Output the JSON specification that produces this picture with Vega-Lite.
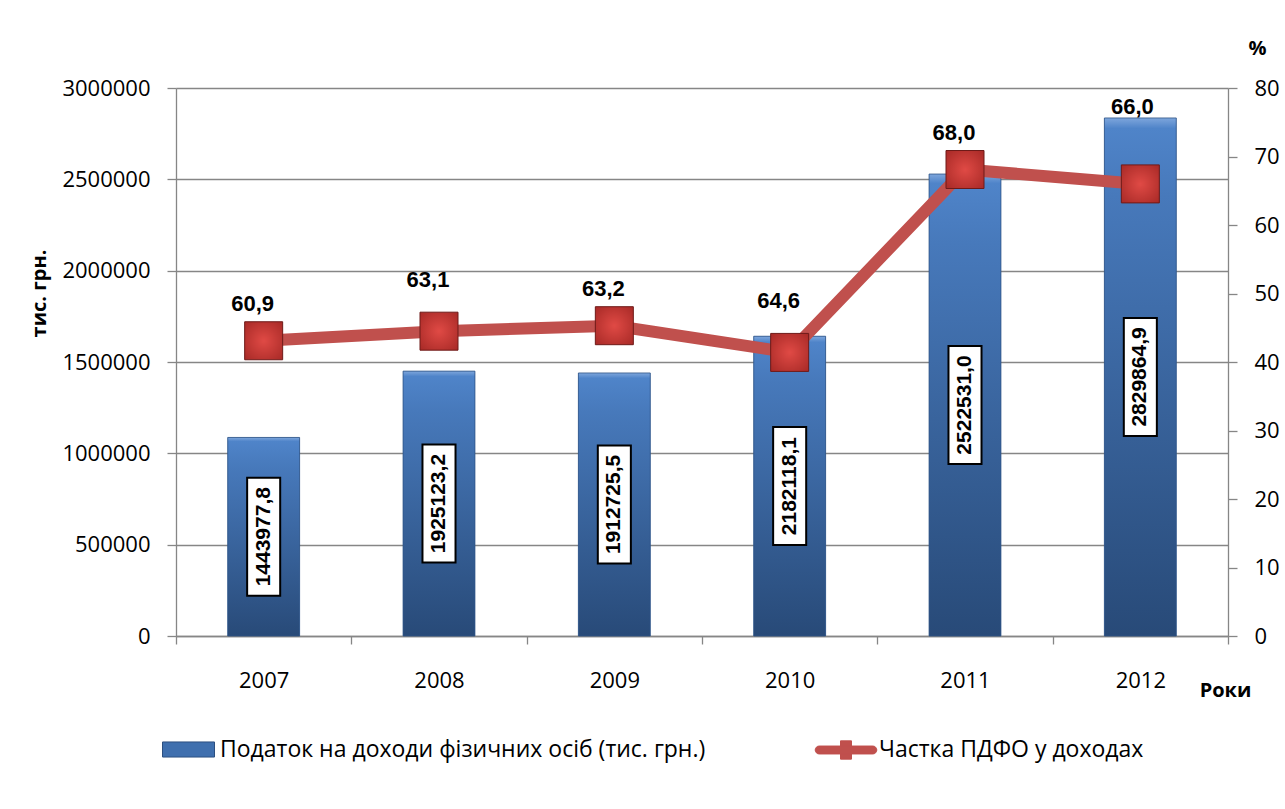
{
  "$schema": "https://vega.github.io/schema/vega-lite/v6.json",
  "width": 1052,
  "height": 548,
  "autosize": {"type": "none"},
  "padding": {"left": 176, "top": 88, "right": 57, "bottom": 173},
  "background": "white",
  "config": {
    "view": {"stroke": null},
    "font": "Open Sans",
    "axis": {
      "labelFont": "Open Sans",
      "labelFontSize": 22,
      "labelColor": "#000000",
      "domainColor": "#868686",
      "domainWidth": 1.3,
      "tickColor": "#868686",
      "tickWidth": 1.3,
      "gridColor": "#868686",
      "gridWidth": 1.3,
      "titleFont": "Open Sans",
      "titleFontWeight": "bold",
      "titleFontSize": 20,
      "titleColor": "#000000"
    }
  },
  "data": {
    "values": [
      {"year": "2007", "tax": 1087000, "taxLabel": "1443977,8", "share": 43.1, "shareLabel": "60,9"},
      {"year": "2008", "tax": 1450000, "taxLabel": "1925123,2", "share": 44.5, "shareLabel": "63,1"},
      {"year": "2009", "tax": 1440000, "taxLabel": "1912725,5", "share": 45.3, "shareLabel": "63,2"},
      {"year": "2010", "tax": 1641000, "taxLabel": "2182118,1", "share": 41.4, "shareLabel": "64,6"},
      {"year": "2011", "tax": 2529000, "taxLabel": "2522531,0", "share": 68.1, "shareLabel": "68,0"},
      {"year": "2012", "tax": 2836000, "taxLabel": "2829864,9", "share": 66.0, "shareLabel": "66,0"}
    ]
  },
  "encoding": {
    "x": {
      "field": "year",
      "type": "ordinal",
      "scale": {"paddingInner": 0, "paddingOuter": 0},
      "axis": {
        "title": "Роки",
        "labelAngle": 0,
        "tickBand": "extent",
        "tickSize": 8,
        "labelPadding": 26,
        "titleX": 1049,
        "titleY": 54,
        "titleAlign": "center",
        "titleBaseline": "middle",
        "titleAngle": 0
      }
    }
  },
  "layer": [
    {
      "layer": [
        {
          "mark": {"type": "bar", "width": {"band": 0.41}},
          "encoding": {
            "y": {
              "field": "tax",
              "type": "quantitative",
              "scale": {"domain": [0, 3000000], "nice": false},
              "axis": {
                "orient": "left",
                "title": "тис. грн.",
                "values": [0, 500000, 1000000, 1500000, 2000000, 2500000, 3000000],
                "format": "d",
                "grid": true,
                "tickSize": 9,
                "labelPadding": 17,
                "titleX": -137,
                "titleY": 205,
                "titleAngle": -90,
                "titleAlign": "center",
                "titleBaseline": "middle"
              }
            },
            "fill": {
              "datum": "Податок на доходи фізичних осіб (тис. грн.)",
              "type": "nominal",
              "scale": {"range": ["#3f6fae"]},
              "legend": {
                "title": null,
                "orient": "none",
                "legendX": -14,
                "legendY": 635,
                "padding": 0,
                "symbolType": "M-1,-0.29H1V0.29H-1Z",
                "symbolSize": 2704,
                "symbolStrokeWidth": 0,
                "labelFont": "Open Sans",
                "labelFontSize": 23,
                "labelColor": "#000000",
                "labelOffset": 5,
                "labelLimit": 700,
                "encode": {
                  "symbols": {
                    "update": {
                      "fill": {"value": "#4271b0"},
                      "stroke": {"value": "#2c4f80"},
                      "strokeWidth": {"value": 1},
                      "opacity": {"value": 1}
                    }
                  }
                }
              }
            }
          }
        },
        {
          "mark": {
            "type": "bar",
            "width": {"band": 0.41},
            "fill": {
              "gradient": "linear",
              "x1": 0, "y1": 0, "x2": 0, "y2": 1,
              "stops": [
                {"offset": 0, "color": "#7ea6dc"},
                {"offset": 0.02, "color": "#4f84c9"},
                {"offset": 0.15, "color": "#4779bb"},
                {"offset": 1, "color": "#284a78"}
              ]
            },
            "stroke": "#2f5487",
            "strokeWidth": 0.8
          },
          "encoding": {
            "y": {"field": "tax", "type": "quantitative"}
          }
        },
        {
          "transform": [{"calculate": "datum.tax / 2", "as": "mid"}],
          "mark": {
            "type": "point",
            "shape": "M-0.28,-1H0.28V1H-0.28Z",
            "size": 13924,
            "filled": true,
            "fill": "#ffffff",
            "stroke": "#000000",
            "strokeWidth": 2,
            "opacity": 1
          },
          "encoding": {
            "y": {"field": "mid", "type": "quantitative", "title": "тис. грн."}
          }
        },
        {
          "transform": [{"calculate": "datum.tax / 2", "as": "mid"}],
          "mark": {
            "type": "text",
            "angle": 270,
            "align": "center",
            "baseline": "middle",
            "font": "Liberation Sans",
            "fontWeight": "bold",
            "fontSize": 21,
            "color": "#000000"
          },
          "encoding": {
            "y": {"field": "mid", "type": "quantitative", "title": "тис. грн."},
            "text": {"field": "taxLabel"}
          }
        }
      ]
    },
    {
      "encoding": {
        "y": {
          "field": "share",
          "type": "quantitative",
          "scale": {"domain": [0, 80], "nice": false},
          "axis": {
            "orient": "right",
            "title": "%",
            "values": [0, 10, 20, 30, 40, 50, 60, 70, 80],
            "grid": false,
            "tickSize": 9,
            "labelPadding": 17,
            "titleX": 29,
            "titleY": -40,
            "titleAngle": 0,
            "titleAlign": "center",
            "titleBaseline": "middle"
          }
        }
      },
      "layer": [
        {
          "mark": {"type": "line", "strokeWidth": 12},
          "encoding": {
            "stroke": {
              "datum": "Частка ПДФО у доходах",
              "type": "nominal",
              "scale": {"range": ["#c0504d"]},
              "legend": {
                "title": null,
                "orient": "none",
                "legendX": 639,
                "legendY": 631,
                "padding": 0,
                "symbolType": "M-0.88,-0.13H0.88A0.13,0.13 0 0 1 0.88,0.13H-0.88A0.13,0.13 0 0 1 -0.88,-0.13Z M-0.18,-0.3H0.18V0.3H-0.18Z",
                "symbolSize": 3721,
                "labelFont": "Open Sans",
                "labelFontSize": 23,
                "labelColor": "#000000",
                "labelOffset": 2,
                "labelLimit": 700,
                "encode": {
                  "symbols": {
                    "update": {
                      "fill": {"value": "#c0504d"},
                      "stroke": {"value": "#9b3532"},
                      "strokeWidth": {"value": 1},
                      "opacity": {"value": 1}
                    }
                  }
                }
              }
            }
          }
        },
        {
          "mark": {
            "type": "point",
            "shape": "square",
            "size": 1444,
            "filled": true,
            "opacity": 1,
            "fill": {
              "gradient": "radial",
              "x1": 0.5, "y1": 0.5, "r1": 0,
              "x2": 0.5, "y2": 0.5, "r2": 0.75,
              "stops": [
                {"offset": 0, "color": "#e04a45"},
                {"offset": 1, "color": "#a32724"}
              ]
            },
            "stroke": "#6e1a18",
            "strokeWidth": 1
          }
        },
        {
          "transform": [{"filter": {"field": "year", "oneOf": ["2007", "2009", "2011"]}}],
          "mark": {
            "type": "text",
            "dx": -11,
            "dy": -37,
            "align": "center",
            "baseline": "middle",
            "font": "Liberation Sans",
            "fontWeight": "bold",
            "fontSize": 22,
            "color": "#000000"
          },
          "encoding": {"text": {"field": "shareLabel"}}
        },
        {
          "transform": [{"filter": {"field": "year", "oneOf": ["2008", "2010"]}}],
          "mark": {
            "type": "text",
            "dx": -11,
            "dy": -51,
            "align": "center",
            "baseline": "middle",
            "font": "Liberation Sans",
            "fontWeight": "bold",
            "fontSize": 22,
            "color": "#000000"
          },
          "encoding": {"text": {"field": "shareLabel"}}
        },
        {
          "transform": [{"filter": {"field": "year", "oneOf": ["2012"]}}],
          "mark": {
            "type": "text",
            "dx": -8,
            "dy": -77,
            "align": "center",
            "baseline": "middle",
            "font": "Liberation Sans",
            "fontWeight": "bold",
            "fontSize": 22,
            "color": "#000000"
          },
          "encoding": {"text": {"field": "shareLabel"}}
        }
      ]
    }
  ],
  "resolve": {"scale": {"y": "independent"}}
}
